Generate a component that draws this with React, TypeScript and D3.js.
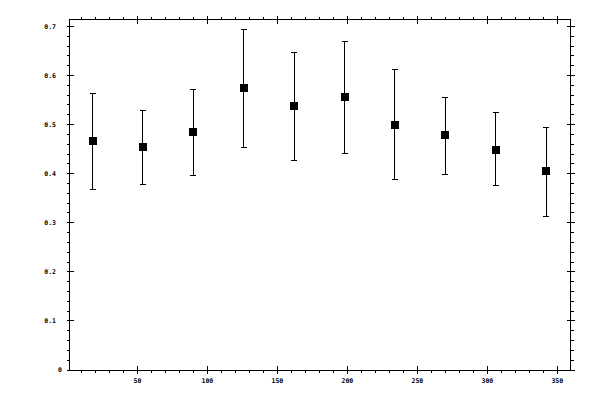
import { range, scaleLinear } from 'd3';

// bin centres (degrees) and the measured mean with its error range
const angles = [18, 54, 90, 126, 162, 198, 234, 270, 306, 342];
const means = [0.466, 0.454, 0.484, 0.575, 0.537, 0.556, 0.5, 0.478, 0.449, 0.405];
const upper = [0.563, 0.529, 0.571, 0.694, 0.647, 0.67, 0.613, 0.556, 0.525, 0.494];
const lower = [0.368, 0.378, 0.396, 0.454, 0.426, 0.442, 0.388, 0.398, 0.376, 0.313];

const xTicks = [50, 100, 150, 200, 250, 300, 350];
const xTickLabels = ['50', '100', '150', '200', '250', '300', '350'];
const yTicks = [0, 0.1, 0.2, 0.3, 0.4, 0.5, 0.6, 0.7];
const yTickLabels = ['0', '0.1', '0.2', '0.3', '0.4', '0.5', '0.6', '0.7'];

const width = 600;
const height = 400;
const frame = { left: 69.5, right: 570.5, top: 19.5, bottom: 370 };

const fontStyle = {
  fontFamily: '"DejaVu Sans Mono", monospace',
  fontSize: 6.5,
  fontWeight: 700,
};

export default function App() {
  const x = scaleLinear().domain([1.5, 359.4]).range([frame.left, frame.right]);
  const y = scaleLinear().domain([0, 0.714]).range([frame.bottom, frame.top]);

  const xMinor = range(10, 360, 10).filter(v => !xTicks.includes(v));
  const yMinor = range(0, 0.71, 0.02).filter(v => !yTicks.some(t => Math.abs(t - v) < 1e-6));

  const marker = 8;
  const cap = 3;

  return (
    <svg
      width={width}
      height={height}
      viewBox={`0 0 ${width} ${height}`}
      style={{ position: 'absolute', left: 0, top: 0, background: '#fff' }}
    >
      <g stroke="#000" strokeWidth={1} shapeRendering="crispEdges" fill="none">
        <rect x={frame.left} y={frame.top} width={frame.right - frame.left} height={frame.bottom - frame.top} />

        {/* minor ticks point outward on every side */}
        {xMinor.map(v => (
          <g key={`xm${v}`}>
            <line x1={x(v)} x2={x(v)} y1={frame.bottom} y2={frame.bottom + 3} />
            <line x1={x(v)} x2={x(v)} y1={frame.top} y2={frame.top - 3} />
          </g>
        ))}
        {yMinor.map(v => (
          <g key={`ym${v}`}>
            <line x1={frame.left} x2={frame.left - 3} y1={y(v)} y2={y(v)} />
            <line x1={frame.right} x2={frame.right + 3} y1={y(v)} y2={y(v)} />
          </g>
        ))}

        {/* major ticks cross the frame */}
        {xTicks.map(v => (
          <g key={`xM${v}`}>
            <line x1={x(v)} x2={x(v)} y1={frame.bottom - 4} y2={frame.bottom + 4} />
            <line x1={x(v)} x2={x(v)} y1={frame.top - 4} y2={frame.top + 4} />
          </g>
        ))}
        {yTicks.map(v => (
          <g key={`yM${v}`}>
            <line x1={frame.left - 3} x2={frame.left + 4} y1={y(v)} y2={y(v)} />
            <line x1={frame.right - 4} x2={frame.right + 4} y1={y(v)} y2={y(v)} />
          </g>
        ))}

        {/* error bars */}
        {angles.map((a, i) => (
          <g key={`e${a}`}>
            <line x1={x(a)} x2={x(a)} y1={y(upper[i])} y2={y(lower[i])} />
            <line x1={x(a) - cap} x2={x(a) + cap} y1={y(upper[i])} y2={y(upper[i])} />
            <line x1={x(a) - cap} x2={x(a) + cap} y1={y(lower[i])} y2={y(lower[i])} />
          </g>
        ))}
      </g>

      {angles.map((a, i) => (
        <rect
          key={`m${a}`}
          x={x(a) - marker / 2}
          y={y(means[i]) - marker / 2}
          width={marker}
          height={marker}
          fill="#000"
          shapeRendering="crispEdges"
        />
      ))}

      <g fill="#000" style={fontStyle}>
        {xTicks.map((v, i) => (
          <text key={`xl${v}`} x={x(v)} y={frame.bottom + 12.5} textAnchor="middle">
            {xTickLabels[i]}
          </text>
        ))}
        {yTicks.map((v, i) => (
          <text
            key={`yl${v}`}
            x={frame.left - (yTickLabels[i].length > 1 ? 13.5 : 7.5)}
            y={y(v) + 2.3}
            textAnchor="end"
          >
            {yTickLabels[i]}
          </text>
        ))}
      </g>
    </svg>
  );
}
